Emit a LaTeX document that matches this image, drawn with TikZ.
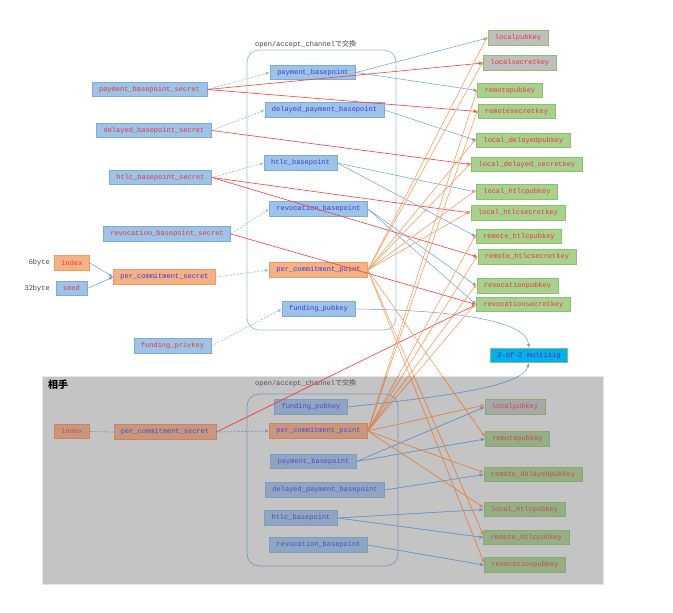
\documentclass[tikz,border=0pt]{standalone}
\usepackage{fontspec}
\newfontfamily\mono{Liberation Mono}
\newfontfamily\cjk{Noto Sans CJK JP}
\usetikzlibrary{arrows.meta}
\definecolor{bfill}{HTML}{9DC3E6}
\definecolor{bdraw}{HTML}{7FAADC}
\definecolor{ofill}{HTML}{F4B183}
\definecolor{odraw}{HTML}{F19A62}
\definecolor{gfill}{HTML}{A9D18E}
\definecolor{gdraw}{HTML}{8CC06C}
\definecolor{greyfill}{HTML}{BFBFBF}
\definecolor{cyanfill}{HTML}{00B0F0}
\definecolor{redtxt}{HTML}{E8363E}
\definecolor{bluetxt}{HTML}{3A3AE0}
\definecolor{purptxt}{HTML}{6A2A7A}
\definecolor{redline}{HTML}{FF3B3B}
\definecolor{blueline}{HTML}{6A9FD8}
\definecolor{orline}{HTML}{F5A064}
\definecolor{dashline}{HTML}{9DC3E6}
\definecolor{framec}{HTML}{9DC3E6}
\definecolor{labtxt}{HTML}{404040}
% dimmed (counterparty area)
\definecolor{shadebg}{HTML}{C4C4C4}
\definecolor{dbfill}{HTML}{8FA6C2}
\definecolor{dbdraw}{HTML}{7E9BC0}
\definecolor{dofill}{HTML}{C9977E}
\definecolor{dodraw}{HTML}{C98560}
\definecolor{dgfill}{HTML}{94AF84}
\definecolor{dgdraw}{HTML}{86A872}
\definecolor{dgreyfill}{HTML}{A8A8A8}
\definecolor{dredtxt}{HTML}{C84A50}
\definecolor{dbluetxt}{HTML}{4B4BC8}
\definecolor{dredline}{HTML}{E05858}
\definecolor{dblueline}{HTML}{6F92BC}
\definecolor{dorline}{HTML}{D48658}
\definecolor{ddashline}{HTML}{7F98B5}
\definecolor{dframec}{HTML}{7E9BBF}
\definecolor{dlabtxt}{HTML}{505050}
\tikzset{
  box/.style={draw, line width=0.6pt, font=\mono\fontsize{7}{8}\selectfont, minimum height=14.5pt, inner xsep=7pt, inner ysep=0pt},
  bluebox/.style={box, fill=bfill, draw=bdraw, text=redtxt},
  midbox/.style={box, fill=bfill, draw=bdraw, text=bluetxt},
  orbox/.style={box, fill=ofill, draw=odraw, text=bluetxt},
  orredbox/.style={box, fill=ofill, draw=odraw, text=redtxt},
  grbox/.style={box, fill=gfill, draw=gdraw, text=redtxt},
  gybox/.style={box, fill=greyfill, draw=gdraw, text=redtxt},
  cybox/.style={box, fill=cyanfill, draw=gdraw, text=purptxt},
  dmidbox/.style={box, fill=dbfill, draw=dbdraw, text=dbluetxt},
  dorbox/.style={box, fill=dofill, draw=dodraw, text=dbluetxt},
  dorredbox/.style={box, fill=dofill, draw=dodraw, text=dredtxt},
  dgrbox/.style={box, fill=dgfill, draw=dgdraw, text=dredtxt},
  dgybox/.style={box, fill=dgreyfill, draw=dgdraw, text=dredtxt},
  frameround/.style={draw=framec, line width=0.8pt, rounded corners=12pt},
  dframeround/.style={draw=dframec, line width=0.8pt, rounded corners=12pt},
  lab/.style={inner sep=0pt, text=labtxt, font=\mono\fontsize{7}{8}\selectfont},
  arr/.style={-{Latex[length=4pt,width=3.2pt]}},
  redarr/.style={draw=redline, line width=0.6pt, arr},
  bluearr/.style={draw=blueline, line width=0.5pt, arr},
  orarr/.style={draw=orline, line width=0.6pt, arr},
  dasharr/.style={draw=dashline, line width=0.7pt, dash pattern=on 2pt off 1.5pt, arr},
  dashplain/.style={draw=dashline, line width=0.7pt, dash pattern=on 2pt off 1.5pt}
}
\newcommand\alledges{%
\draw[dasharr] (pbs.east) -- (pb.west);
\draw[dasharr] (dbs.east) -- (dpb.west);
\draw[dasharr] (hbs.east) -- (hb.west);
\draw[dasharr] (rbs.east) -- (rb.west);
\draw[dasharr] (pcs.east) -- (pcp.west);
\draw[dasharr] (fpriv.east) -- (fpub.west);
\draw[dashplain] (idx2.east) -- (pcs2.west);
\draw[dasharr] (pcs2.east) -- (pcp2.west);
\draw[bluearr] (idx.east) -- (pcs.west);
\draw[bluearr] (seed.east) -- (pcs.west);
\draw[redarr] (pbs.east) -- (lsk.west);
\draw[redarr] (pbs.east) -- (rsk.west);
\draw[redarr] (dbs.east) -- (ldsk.west);
\draw[redarr] (hbs.east) -- (lhsk.west);
\draw[redarr] (hbs.east) -- (rhsk.west);
\draw[redarr] (rbs.east) -- (rvsk.west);
\draw[redarr] (pcs2.east) -- (rvsk.west);
\draw[bluearr] (pb.east) -- (lpk.west);
\draw[bluearr] (pb.east) -- (rpk.west);
\draw[bluearr] (dpb.east) -- (ldpk.west);
\draw[bluearr] (hb.east) -- (lhpk.west);
\draw[bluearr] (hb.east) -- (rhpk.west);
\draw[bluearr] (rb.east) -- (rvpk.west);
\draw[bluearr] (rb.east) -- (rvsk.west);
\draw[bluearr] (fpub.east) .. controls (440,310) and (526,318) .. (msig.north);
\draw[bluearr] (fpub2.east) .. controls (450,396) and (522,386) .. (msig.south);
\draw[bluearr] (pb2.east) -- (lpk2.west);
\draw[bluearr] (pb2.east) -- (rpk2.west);
\draw[bluearr] (dpb2.east) -- (rdpk2.west);
\draw[bluearr] (hb2.east) -- (lhpk2.west);
\draw[bluearr] (hb2.east) -- (rhpk2.west);
\draw[bluearr] (rb2.east) -- (rvpk2.west);
\foreach \t in {lpk,lsk,ldpk,ldsk,lhpk,lhsk,rpk2,rhpk2,rvpk2}
  \draw[orarr] (pcp.east) -- ([yshift=2pt]\t.west);
\foreach \t in {rpk,rsk,rhpk,rhsk,rvpk,rvsk,lpk2,rdpk2,lhpk2}
  \draw[orarr] (pcp2.east) -- ([yshift=2pt]\t.west);
}
\begin{document}
\begin{tikzpicture}[x=1pt,y=-1pt]
\useasboundingbox (0,0) rectangle (673,613);
\fill[white] (0,0) rectangle (673,613);
% counterparty area
\fill[shadebg] (42,376) rectangle (603,584);
\draw[white!80!gray, line width=0.6pt] (42,376) rectangle (603,584);
\node[inner sep=0pt, anchor=west, font=\cjk\bfseries\fontsize{10}{12}\selectfont] (aite) at (48,384.5) {相手};
% frames
\draw[frameround] (247,50) rectangle (396,330);
\draw[dframeround] (247,394) rectangle (398,566);
\node[lab, anchor=west] (lab1) at (255,44) {open/accept\_channel{\cjk で交換}};
\node[lab, anchor=west, text=dlabtxt] (lab2) at (255,383) {open/accept\_channel{\cjk で交換}};
% left column
\node[bluebox] (pbs) at (149.5,89.5) {payment\_basepoint\_secret};
\node[bluebox] (dbs) at (154,130.5) {delayed\_basepoint\_secret};
\node[bluebox] (hbs) at (160.5,177.5) {htlc\_basepoint\_secret};
\node[bluebox] (rbs) at (167,234) {revocation\_basepoint\_secret};
\node[orredbox] (idx) at (72,263) {index};
\node[bluebox] (seed) at (71.5,288.5) {seed};
\node[orbox] (pcs) at (164.5,277) {per\_commitment\_secret};
\node[bluebox] (fpriv) at (172.5,346) {funding\_privkey};
\node[lab, anchor=east] (l6) at (50,263) {6byte};
\node[lab, anchor=east] (l32) at (50,289) {32byte};
% middle column
\node[midbox] (pb) at (313,72.5) {payment\_basepoint};
\node[midbox] (dpb) at (324.5,110) {delayed\_payment\_basepoint};
\node[midbox] (hb) at (300.5,163) {htlc\_basepoint};
\node[midbox] (rb) at (318.5,209) {revocation\_basepoint};
\node[orbox] (pcp) at (318.5,270) {per\_commitment\_point};
\node[midbox] (fpub) at (318.5,309) {funding\_pubkey};
% right column
\node[gybox] (lpk) at (518,38) {localpubkey};
\node[gybox] (lsk) at (520,63) {localsecretkey};
\node[grbox] (rpk) at (510,90.5) {remotepubkey};
\node[grbox] (rsk) at (516.5,111.5) {remotesecretkey};
\node[grbox] (ldpk) at (523.5,140.5) {local\_delayedpubkey};
\node[grbox] (ldsk) at (527,164.5) {local\_delayed\_secretkey};
\node[grbox] (lhpk) at (517,192) {local\_htlcpubkey};
\node[grbox] (lhsk) at (518,213) {local\_htlcsecretkey};
\node[grbox] (rhpk) at (519,236.5) {remote\_htlcpubkey};
\node[grbox] (rhsk) at (527,257) {remote\_htlcsecretkey};
\node[grbox] (rvpk) at (517.5,286) {revocationpubkey};
\node[grbox] (rvsk) at (523.5,304.5) {revocationsecretkey};
\node[cybox] (msig) at (529,355.5) {2-of-2 multisig};
% bottom (counterparty)
\node[dorredbox] (idx2) at (72,431.5) {index};
\node[dorbox] (pcs2) at (165,432) {per\_commitment\_secret};
\node[dmidbox] (fpub2) at (311,407) {funding\_pubkey};
\node[dorbox] (pcp2) at (318.5,431) {per\_commitment\_point};
\node[dmidbox] (pb2) at (313.5,461.5) {payment\_basepoint};
\node[dmidbox] (dpb2) at (325,490) {delayed\_payment\_basepoint};
\node[dmidbox] (hb2) at (301,518) {htlc\_basepoint};
\node[dmidbox] (rb2) at (318.5,545) {revocation\_basepoint};
\node[dgybox] (lpk2) at (515,407) {localpubkey};
\node[dgrbox] (rpk2) at (517.5,439) {remotepubkey};
\node[dgrbox] (rdpk2) at (533,474.5) {remote\_delayedpubkey};
\node[dgrbox] (lhpk2) at (524.5,509.5) {local\_htlcpubkey};
\node[dgrbox] (rhpk2) at (526.5,537.5) {remote\_htlcpubkey};
\node[dgrbox] (rvpk2) at (525,565) {revocationpubkey};
% connectors
\alledges
% dimmed copy of the connectors inside the counterparty area
\begin{scope}
  \clip (42,376) rectangle (603,584);
  \tikzset{
    redarr/.style={draw=dredline, line width=0.6pt, arr},
    bluearr/.style={draw=dblueline, line width=0.5pt, arr},
    orarr/.style={draw=dorline, line width=0.6pt, arr},
    dasharr/.style={draw=ddashline, line width=0.7pt, dash pattern=on 2pt off 1.5pt, arr},
    dashplain/.style={draw=ddashline, line width=0.7pt, dash pattern=on 2pt off 1.5pt}
  }
  \alledges
\end{scope}
\end{tikzpicture}
\end{document}
